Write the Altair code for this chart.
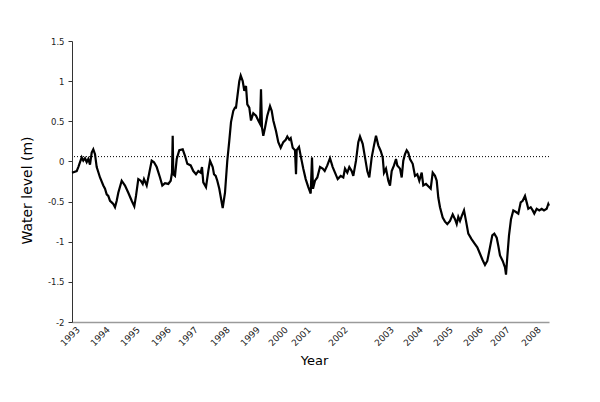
import altair as alt
import pandas as pd

# time index along the record (sample position), and water level in metres
time_index = [
    0, 4.7, 6.3, 9.7, 11.3, 13, 14.7, 16.3, 18, 19.7, 21.3, 23, 24.7, 28, 31.3, 33, 34.7, 36.3, 38, 39.7,
    41.3, 43, 44.7, 46.3, 49.7, 53, 56.3, 59.7, 62.3, 64, 66.3, 68.7, 70.7, 72, 74.7, 77, 79.7, 82, 84.7, 88,
    90.3, 93, 96.3, 98.7, 100, 100.7, 101.3, 103, 104.7, 107.3, 110.7, 113, 115.3, 118.7, 121.3, 124, 126.3, 128.7, 130, 131.3,
    134, 136.3, 138, 140.7, 142, 143.7, 145.3, 147.3, 150.7, 153, 155.3, 157.3, 159, 161.3, 163, 164, 165.3, 167.3, 168.7, 170.7,
    172.3, 174, 175.3, 177.3, 179, 181.3, 184, 186.3, 188, 189, 190, 191.3, 193, 195.3, 198, 199.7, 201.3, 204, 206.3, 208.7,
    211.3, 213.7, 215.3, 217.3, 218.7, 220.7, 223, 224, 224.7, 227, 229, 231.3, 233.7, 236.3, 238.7, 240, 241, 243, 245.3, 248,
    250.7, 252.7, 255.3, 258, 260.7, 263, 265.7, 268.7, 271.3, 273, 275.3, 277.3, 279.7, 281.3, 284, 286.3, 288, 290.7, 293, 295.3,
    297.3, 299.7, 302, 304, 306.3, 308.7, 310.7, 312, 314, 316.3, 318, 319.7, 322, 324, 325.3, 328, 329.7, 331.3, 333, 334.7,
    336.3, 338, 340.7, 343, 345.3, 347.3, 349.7, 351.3, 354, 356.3, 358.7, 360.7, 363, 364.7, 366.3, 368, 370.7, 373, 375.3, 378,
    380.7, 383, 384.7, 386.3, 388, 389.7, 392, 394, 396.3, 399.7, 403, 405.3, 408, 410.7, 413, 415.3, 418, 420.3, 422.3, 424.7,
    426.3, 428, 430.7, 433, 434, 435.3, 437, 439, 441.3, 444, 446.3, 448.7, 450.7, 453, 454.7, 456.3, 458.7, 460.7, 462.3, 464.7,
    467.3, 469.7, 472, 474.7, 476.3, 477,
]
water_level = [
    -0.14, -0.12, -0.07, 0.05, 0.01, 0.04, -0.01, 0.03, -0.04, 0.11, 0.15, 0.09, -0.07, -0.20, -0.30, -0.34, -0.41, -0.43, -0.49, -0.51,
    -0.53, -0.57, -0.49, -0.39, -0.24, -0.30, -0.39, -0.49, -0.56, -0.43, -0.22, -0.24, -0.28, -0.22, -0.30, -0.16, 0.01, -0.01, -0.07, -0.20,
    -0.30, -0.27, -0.28, -0.24, -0.14, 0.32, -0.16, -0.18, 0.03, 0.14, 0.15, 0.07, -0.03, -0.05, -0.12, -0.16, -0.12, -0.14, -0.07, -0.26,
    -0.32, -0.12, 0.01, -0.07, -0.16, -0.18, -0.24, -0.34, -0.58, -0.39, 0.01, 0.26, 0.49, 0.63, 0.67, 0.67, 0.80, 1.00, 1.07, 1.00,
    0.88, 0.94, 0.71, 0.67, 0.51, 0.60, 0.57, 0.51, 0.47, 0.90, 0.42, 0.32, 0.42, 0.57, 0.69, 0.63, 0.51, 0.38, 0.24, 0.17,
    0.24, 0.27, 0.31, 0.27, 0.29, 0.17, 0.14, -0.16, 0.14, 0.18, 0.05, -0.09, -0.22, -0.32, -0.40, 0.05, -0.34, -0.24, -0.20, -0.07,
    -0.09, -0.12, -0.05, 0.04, -0.07, -0.14, -0.22, -0.18, -0.20, -0.09, -0.14, -0.07, -0.12, -0.18, 0.01, 0.24, 0.31, 0.22, 0.05, -0.12,
    -0.20, 0.05, 0.20, 0.32, 0.20, 0.13, 0.05, -0.14, -0.09, -0.24, -0.30, -0.12, -0.05, 0.03, -0.05, -0.09, -0.20, 0.01, 0.09, 0.14,
    0.11, 0.03, -0.03, -0.18, -0.16, -0.24, -0.14, -0.30, -0.28, -0.31, -0.34, -0.14, -0.18, -0.24, -0.45, -0.57, -0.70, -0.75, -0.78, -0.74,
    -0.66, -0.72, -0.78, -0.69, -0.74, -0.68, -0.61, -0.74, -0.90, -0.97, -1.03, -1.07, -1.15, -1.23, -1.29, -1.24, -1.07, -0.92, -0.90, -0.95,
    -1.05, -1.17, -1.24, -1.32, -1.41, -1.19, -0.92, -0.72, -0.61, -0.63, -0.65, -0.51, -0.49, -0.43, -0.51, -0.59, -0.57, -0.61, -0.65, -0.59,
    -0.61, -0.59, -0.61, -0.59, -0.53, -0.55,
]
year_labels = ["1993", "1994", "1995", "1996", "1997", "1998", "1999", "2000",
               "2001", "2002", "2003", "2004", "2005", "2006", "2007", "2008"]
year_ticks = [3, 33, 63, 94, 121, 153, 183, 211, 234, 271, 317, 346, 376, 406, 433, 464]
reference_level = [0.06]
y_ticks = [-2, -1.5, -1, -0.5, 0, 0.5, 1, 1.5]

df = pd.DataFrame({"t": time_index, "level": water_level})
ref_df = pd.DataFrame({"level": reference_level})

label_expr = ("[" + ",".join(f"'{y}'" for y in year_labels) + "][indexof(["
              + ",".join(str(v) for v in year_ticks) + "], datum.value)]")

FONT = "DejaVu Sans"

x_enc = alt.X(
    "t:Q",
    scale=alt.Scale(domain=[0, 477], nice=False, zero=False),
    axis=alt.Axis(
        values=year_ticks, labelExpr=label_expr, labelAngle=-45, ticks=False,
        grid=False, domainColor="#9a9a9a", domainWidth=1.5, labelFont=FONT,
        labelFontSize=9, labelColor="#222", labelPadding=3,
        title="Year", titleFont=FONT, titleFontSize=13, titleFontWeight="normal",
        titleColor="#000", titleX=242, titleY=38, titleBaseline="middle",
        titleAnchor="start", titleAlign="center",
    ),
)
y_enc = alt.Y(
    "level:Q",
    scale=alt.Scale(domain=[-2, 1.5], nice=False, zero=False),
    axis=alt.Axis(
        values=y_ticks, labelExpr="toString(datum.value)", grid=False,
        tickSize=4, tickColor="#333", domainColor="#333", labelFont=FONT,
        labelFontSize=8.5, labelColor="#222", labelPadding=4,
        title="Water level (m)", titleFont=FONT, titleFontSize=14,
        titleFontWeight="normal", titleColor="#000", titleX=-45, titleY=149,
        titleBaseline="middle", titleAlign="center",
    ),
)

line = alt.Chart(df).mark_line(color="black", strokeWidth=2.2, strokeJoin="miter").encode(x=x_enc, y=y_enc)
rule = alt.Chart(ref_df).mark_rule(color="black", strokeWidth=1, strokeDash=[1, 2]).encode(y="level:Q")

chart = alt.layer(rule, line).properties(
    width=477, height=281,
    background="white",
    padding={"left": 64, "top": 33, "right": 30, "bottom": 70},
    autosize=alt.AutoSizeParams(type="none"),
).configure_view(stroke=None, strokeWidth=0)

chart.save("out.html", embed_options={"renderer": "svg", "actions": False})
